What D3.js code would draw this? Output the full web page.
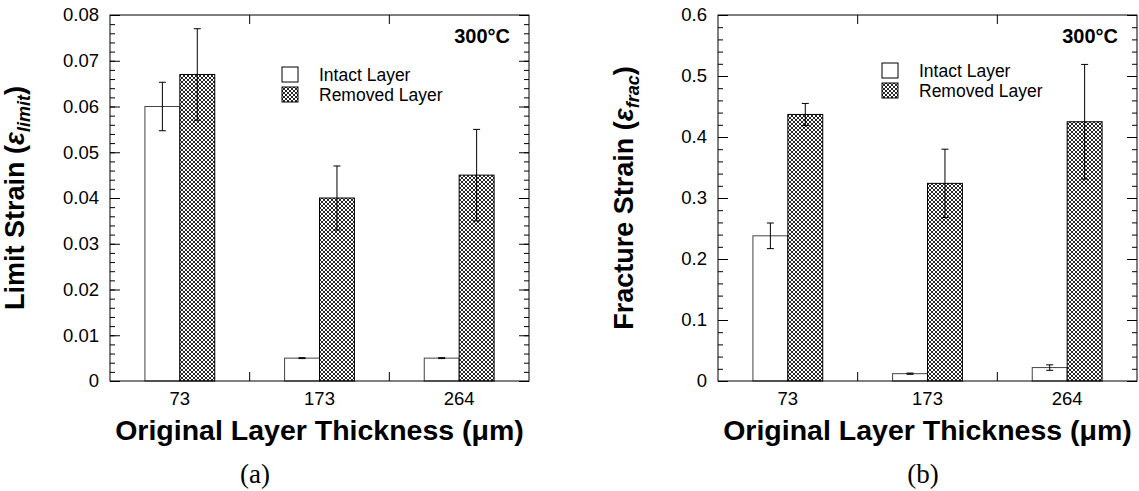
<!DOCTYPE html>
<html>
<head>
<meta charset="utf-8">
<script src="https://cdn.jsdelivr.net/npm/d3@7"></script>
<style>
  body { margin: 0; background: #fff; }
  svg { display: block; font-family: "Liberation Sans", Arial, sans-serif; }
</style>
</head>
<body>
<svg id="chart"></svg>
<script>
// data
const thickness = ["73", "173", "264"];
const series = ["Intact Layer", "Removed Layer"];

const limitIntact = [0.060, 0.005, 0.005];
const limitIntactErr = [0.0053, 0.0001, 0.0001];
const limitRemoved = [0.067, 0.040, 0.045];
const limitRemovedErr = [0.010, 0.007, 0.010];

const fracIntact = [0.238, 0.012, 0.022];
const fracIntactErr = [0.021, 0.001, 0.0045];
const fracRemoved = [0.437, 0.324, 0.425];
const fracRemovedErr = [0.018, 0.056, 0.094];

const limitTicks = [0, 0.01, 0.02, 0.03, 0.04, 0.05, 0.06, 0.07, 0.08];
const fracTicks = [0, 0.1, 0.2, 0.3, 0.4, 0.5, 0.6];

const width = 1139;
const height = 491;

const svg = d3.select("#chart")
    .attr("width", width)
    .attr("height", height);

// crosshatch pattern for the removed layer bars
const defs = svg.append("defs");
const pat = defs.append("pattern")
    .attr("id", "hatch")
    .attr("patternUnits", "userSpaceOnUse")
    .attr("width", 4)
    .attr("height", 4);
pat.append("rect").attr("width", 4).attr("height", 4).attr("fill", "#fff");
pat.append("path")
    .attr("d", "M-1,1 L1,-1 M0,4 L4,0 M3,5 L5,3 M-1,3 L1,5 M0,0 L4,4 M3,-1 L5,1")
    .attr("stroke", "#000")
    .attr("stroke-width", 0.85);

function drawPanel(opts) {
  const { left, right, top, bottom, yMax, ticks, minorStep, intact, intactErr,
          removed, removedErr, yTitle, ySub, yTitleX, legendX, legendY, letter, letterX } = opts;

  const g = svg.append("g");

  const x = d3.scaleBand()
    .domain(thickness)
    .range([left, right])
    .padding(0);

  const xSub = d3.scaleBand()
    .domain(series)
    .range([0, x.bandwidth()])
    .paddingInner(0)
    .paddingOuter(1);

  const y = d3.scaleLinear()
    .domain([0, yMax])
    .range([bottom, top]);

  const rows = thickness.map((t, i) => [
    { cat: t, s: series[0], v: intact[i], e: intactErr[i] },
    { cat: t, s: series[1], v: removed[i], e: removedErr[i] }
  ]).flat();

  // bars
  g.selectAll("rect.bar")
    .data(rows)
    .enter()
    .append("rect")
      .attr("class", "bar")
      .attr("x", d => x(d.cat) + xSub(d.s))
      .attr("y", d => y(d.v))
      .attr("width", xSub.bandwidth())
      .attr("height", d => y(0) - y(d.v))
      .attr("fill", d => d.s === series[0] ? "#fff" : "url(#hatch)")
      .attr("stroke", d => d.s === series[0] ? "#444" : "#000")
      .attr("stroke-width", 1);

  // error bars
  const cx = d => x(d.cat) + xSub(d.s) + xSub.bandwidth() / 2;
  const err = g.selectAll("g.err")
    .data(rows)
    .enter()
    .append("g")
      .attr("class", "err")
      .attr("stroke", "#000")
      .attr("stroke-width", 1);
  err.append("line")
    .attr("x1", cx).attr("x2", cx)
    .attr("y1", d => y(d.v + d.e)).attr("y2", d => y(d.v - d.e));
  err.append("line")
    .attr("x1", d => cx(d) - 3.5).attr("x2", d => cx(d) + 3.5)
    .attr("y1", d => y(d.v + d.e)).attr("y2", d => y(d.v + d.e));
  err.append("line")
    .attr("x1", d => cx(d) - 3.5).attr("x2", d => cx(d) + 3.5)
    .attr("y1", d => y(d.v - d.e)).attr("y2", d => y(d.v - d.e));

  // frame
  g.append("rect")
    .attr("x", left).attr("y", top)
    .attr("width", right - left).attr("height", bottom - top)
    .attr("fill", "none")
    .attr("stroke", "#000")
    .attr("stroke-width", 1);

  const minor = d3.range(0, yMax + 1e-9, minorStep);

  // y axes, ticks inside
  const yAxis = d3.axisLeft(y)
    .tickValues(ticks)
    .tickFormat(d => d === 0 ? "0" : d3.format("")(+d.toFixed(3)))
    .tickSize(-10)
    .tickPadding(11);
  const yAxisG = g.append("g")
    .attr("transform", `translate(${left},0)`)
    .call(yAxis);
  yAxisG.select(".domain").remove();
  yAxisG.selectAll("text")
    .style("font-size", "18.5px")
    .style("font-family", "'Liberation Sans', Arial, sans-serif")
    .attr("fill", "#000");

  const yMinor = g.append("g")
    .attr("transform", `translate(${left},0)`)
    .call(d3.axisLeft(y).tickValues(minor).tickSize(-5).tickFormat(""));
  yMinor.select(".domain").remove();

  const yRight = g.append("g")
    .attr("transform", `translate(${right},0)`)
    .call(d3.axisRight(y).tickValues(ticks).tickSize(-10).tickFormat(""));
  yRight.select(".domain").remove();

  const yRightMinor = g.append("g")
    .attr("transform", `translate(${right},0)`)
    .call(d3.axisRight(y).tickValues(minor).tickSize(-5).tickFormat(""));
  yRightMinor.select(".domain").remove();

  // x axis labels
  const xAxisG = g.append("g")
    .attr("transform", `translate(0,${bottom})`)
    .call(d3.axisBottom(x).tickSize(0).tickPadding(11));
  xAxisG.select(".domain").remove();
  xAxisG.selectAll("text")
    .style("font-size", "18.5px")
    .style("font-family", "'Liberation Sans', Arial, sans-serif")
    .attr("fill", "#000");

  // boundary ticks, top and bottom
  const bounds = thickness.slice(1).map(t => x(t));
  g.selectAll("line.btick")
    .data(bounds)
    .enter()
    .append("line")
      .attr("x1", d => d).attr("x2", d => d)
      .attr("y1", bottom).attr("y2", bottom - 9)
      .attr("stroke", "#000");
  g.selectAll("line.ttick")
    .data(bounds)
    .enter()
    .append("line")
      .attr("x1", d => d).attr("x2", d => d)
      .attr("y1", top).attr("y2", top + 9)
      .attr("stroke", "#000");

  // titles
  g.append("text")
    .attr("x", (left + right) / 2)
    .attr("y", 440)
    .attr("text-anchor", "middle")
    .style("font-size", "28.5px")
    .style("font-weight", "bold")
    .text("Original Layer Thickness (μm)");

  const yt = g.append("text")
    .attr("transform", `translate(${yTitleX},${(top + bottom) / 2}) rotate(-90)`)
    .attr("text-anchor", "middle")
    .style("font-size", "27px")
    .style("font-weight", "bold");
  yt.append("tspan").text(yTitle + " (");
  yt.append("tspan").style("font-style", "italic").text("ε");
  yt.append("tspan").attr("dy", 6).style("font-style", "italic").style("font-size", "18px").text(ySub);
  yt.append("tspan").attr("dy", -6).text(")");

  g.append("text")
    .attr("x", right - 19)
    .attr("y", 43)
    .attr("text-anchor", "end")
    .style("font-size", "20px")
    .style("font-weight", "bold")
    .text("300°C");

  // legend
  const leg = g.selectAll("g.leg")
    .data(series)
    .enter()
    .append("g")
      .attr("class", "leg")
      .attr("transform", (d, i) => `translate(${legendX},${legendY + i * 20})`);
  leg.append("rect")
    .attr("width", 16).attr("height", 15)
    .attr("fill", (d, i) => i === 0 ? "#fff" : "url(#hatch)")
    .attr("stroke", "#000");
  leg.append("text")
    .attr("x", 37)
    .attr("y", 14)
    .style("font-size", "17.5px")
    .text(d => d);

  g.append("text")
    .attr("x", letterX)
    .attr("y", 483)
    .attr("text-anchor", "middle")
    .style("font-family", "'Liberation Serif', 'Times New Roman', serif")
    .style("font-size", "27px")
    .text(letter);
}

drawPanel({
  left: 110, right: 529, top: 15, bottom: 381,
  yMax: 0.08, ticks: limitTicks, minorStep: 0.002,
  intact: limitIntact, intactErr: limitIntactErr,
  removed: limitRemoved, removedErr: limitRemovedErr,
  yTitle: "Limit Strain", ySub: "limit", yTitleX: 24,
  legendX: 282, legendY: 67, letter: "(a)", letterX: 255
});

drawPanel({
  left: 718, right: 1137, top: 15, bottom: 381,
  yMax: 0.6, ticks: fracTicks, minorStep: 0.02,
  intact: fracIntact, intactErr: fracIntactErr,
  removed: fracRemoved, removedErr: fracRemovedErr,
  yTitle: "Fracture Strain", ySub: "frac", yTitleX: 633,
  legendX: 882, legendY: 63, letter: "(b)", letterX: 923
});
</script>
</body>
</html>
